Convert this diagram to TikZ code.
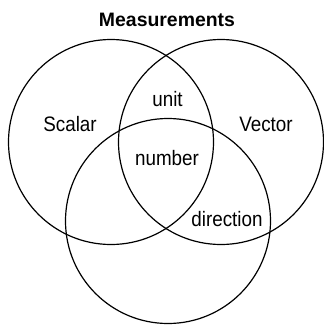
\documentclass[tikz,border=0pt]{standalone}
\usepackage{fontspec}
\setmainfont{Liberation Sans}
\newfontfamily\condfont[FakeStretch=0.9]{Liberation Sans}
\begin{document}
\begin{tikzpicture}[x=1bp,y=-1bp,
  venn/.style={circle,draw=black,line width=1.2bp,minimum size=205bp,inner sep=0pt,outer sep=0pt},
  lbl/.style={anchor=base,inner sep=0pt,font=\condfont\fontsize{21}{24}\selectfont},
  ttl/.style={anchor=base,inner sep=0pt,font=\fontsize{19.5}{23}\selectfont\bfseries}]
\useasboundingbox (0,0) rectangle (324,327);
\node[venn] (left) at (111,142) {};
\node[venn] (right) at (221,142) {};
\node[venn] (bottom) at (168,221) {};
\node[ttl] (title) at (167,26) {Measurements};
\node[lbl] (scalar) at (70,131.5) {Scalar};
\node[lbl] (vector) at (266,131.5) {Vector};
\node[lbl] (unit) at (167.5,106) {unit};
\node[lbl] (number) at (167,165) {number};
\node[lbl] (direction) at (227,226) {direction};
\end{tikzpicture}
\end{document}
